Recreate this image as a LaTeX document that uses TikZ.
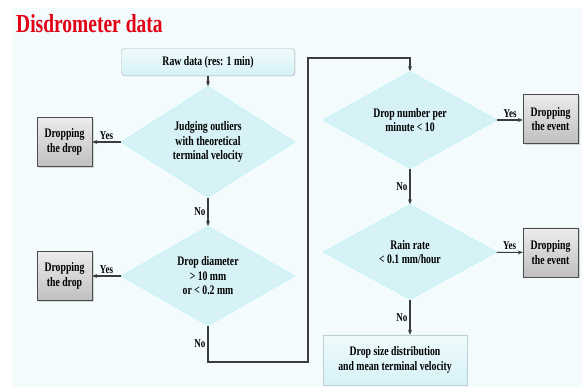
\documentclass[tikz,border=0pt]{standalone}
\usepackage{fontspec}
\setmainfont{Liberation Serif}[FakeStretch=0.75]
\usetikzlibrary{shapes.geometric,shadows,arrows.meta}
\definecolor{slidebg}{RGB}{243,251,253}
\definecolor{boxcyan}{RGB}{214,242,247}
\definecolor{titlered}{RGB}{228,0,20}
\definecolor{linegray}{RGB}{60,60,60}
\newcommand\flowfont{\fontsize{13}{14.5}\selectfont\bfseries}
\tikzset{
    flow/.style={draw=linegray, line width=1.1pt, -{Stealth[length=5pt,width=4pt]}},
    decision/.style={diamond, fill=boxcyan, draw=boxcyan!85!cyan, inner sep=0pt, minimum width=174pt, minimum height=95pt, align=center, font=\flowfont},
    dropbox/.style={rectangle, top color=gray!15, bottom color=gray!50, draw=gray!60!black, minimum width=55pt, minimum height=49pt, inner sep=1pt, align=center, font=\flowfont, drop shadow={shadow xshift=1.5pt, shadow yshift=-1.5pt, opacity=0.3}},
    answer/.style={font=\fontsize{12}{13}\selectfont\bfseries, inner sep=2pt}
}
\begin{document}
\begin{tikzpicture}[x=1pt, y=-1pt]
        \useasboundingbox (0,0) rectangle (582,387);
        \fill[white] (0,0) rectangle (582,387);
        \fill[slidebg] (12,8) rectangle (582,387);
        \node (title) at (16,24) [anchor=west, text=titlered, font=\fontsize{26}{28}\selectfont\bfseries, inner sep=0pt]{Disdrometer data};

        \node (raw) at (208,62) [rectangle, rounded corners=3pt, top color=boxcyan!40, bottom color=boxcyan, draw=gray!60, minimum width=173pt, minimum height=27pt, font=\flowfont, drop shadow={shadow xshift=1pt, shadow yshift=-1pt, opacity=0.2}]{Raw data (res: 1 min)};
        \node[decision] (outlier) at (208,142){Judging outliers\\with theoretical\\terminal velocity};
        \node[dropbox] (dropA) at (64.5,142){Dropping\\the drop};
        \node[decision] (diameter) at (208,276){Drop diameter\\> 10 mm\\or < 0.2 mm};
        \node[dropbox] (dropB) at (64.5,276){Dropping\\the drop};

        \coordinate (turn1) at (208,362);
        \coordinate (turn2) at (308,362);
        \coordinate (turn3) at (308,58);
        \coordinate (turn4) at (410,58);

        \node[decision] (number) at (410,120){Drop number per\\minute < 10};
        \node[dropbox] (eventA) at (550.5,119){Dropping\\the event};
        \node[decision] (rate) at (410,252){Rain rate\\< 0.1 mm/hour};
        \node[dropbox] (eventB) at (550.5,252.5){Dropping\\the event};
        \node (dsd) at (395,360) [rectangle, top color=boxcyan!40, bottom color=boxcyan, draw=boxcyan!70!gray, minimum width=144pt, minimum height=50pt, align=center, font=\flowfont, drop shadow={shadow xshift=1pt, shadow yshift=-1pt, opacity=0.15}]{Drop size distribution\\and mean terminal velocity};

        \draw[flow] (raw) -- (outlier);
        \draw[flow] (outlier) -- node[answer, above]{Yes} (dropA);
        \draw[flow] (outlier) -- node[answer, left]{No} (diameter);
        \draw[flow] (diameter) -- node[answer, above]{Yes} (dropB);
        \draw[flow] (diameter.south) -- node[answer, left]{No} (turn1) -- (turn2) -- (turn3) -- (turn4) -- (number.north);
        \draw[flow] (number) -- node[answer, above]{Yes} (eventA.west |- number.east);
        \draw[flow] (number) -- node[answer, left]{No} (rate);
        \draw[flow] (rate) -- node[answer, above]{Yes} (eventB);
        \draw[flow] (rate.south) -- node[answer, left]{No} (rate.south |- dsd.north);
    \end{tikzpicture}
\end{document}
